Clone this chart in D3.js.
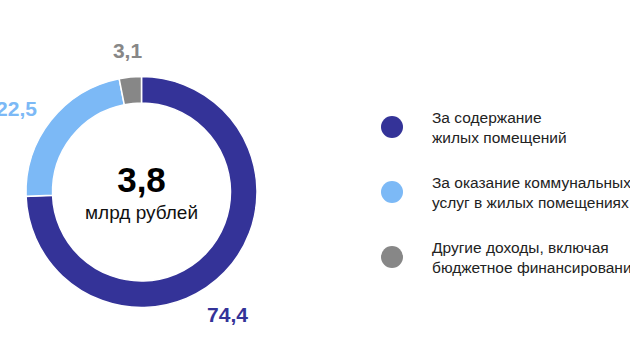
<!DOCTYPE html>
<html>
<head>
<meta charset="utf-8">
<script src="https://cdn.jsdelivr.net/npm/d3@7"></script>
<style>
  body { margin: 0; background: #fff; }
  svg text { font-family: "Liberation Sans", Arial, sans-serif; }
</style>
</head>
<body>
<svg id="donut" width="630" height="355"></svg>
<script>
// shares of income, %
var categories = ["За содержание жилых помещений", "За оказание коммунальных услуг в жилых помещениях", "Другие доходы, включая бюджетное финансирование"];
var values = [74.4, 22.5, 3.1];
var valueLabels = ["74,4", "22,5", "3,1"];
var legendLines = [
  ["За содержание", "жилых помещений"],
  ["За оказание коммунальных", "услуг в жилых помещениях"],
  ["Другие доходы, включая", "бюджетное финансирование"]
];
var colors = ["#343398", "#7cb9f6", "#878787"];
var totalLabel = "3,8";
var unitLabel = "млрд рублей";

function draw() {
  var svg = d3.select('#donut');

  var cx = 141.5, cy = 192;
  var r_out = 115.5, r_in = 89;

  var _data = values.map(function(v, i) {
    return { name: categories[i], value: v, label: valueLabels[i], color: colors[i] };
  });

  var pie = d3.pie().sort(null).value((d) => d.value);
  var arc = d3.arc().innerRadius(r_in).outerRadius(r_out);

  var canvas = svg.append("g").attr("transform", `translate(${cx}, ${cy})`);

  canvas.selectAll("path")
    .data(pie(_data))
    .enter().append("path")
      .attr("d", arc)
      .attr("fill", (d) => d.data.color)
      .attr("stroke", "#fff")
      .attr("stroke-width", 1.5);

  // value labels outside the ring
  var labelPos = [[86, 130], [-125, -76], [-14, -134]];
  canvas.selectAll("text.value")
    .data(pie(_data))
    .enter().append("text")
      .attr("class", "value")
      .attr("x", (d, i) => labelPos[i][0])
      .attr("y", (d, i) => labelPos[i][1])
      .attr("text-anchor", "middle")
      .attr("font-size", 21)
      .attr("font-weight", "bold")
      .attr("fill", (d) => d.data.color)
      .text((d) => d.data.label);

  canvas.append("text")
    .attr("text-anchor", "middle")
    .attr("y", 0)
    .attr("font-size", 35)
    .attr("font-weight", "bold")
    .attr("fill", "#000")
    .text(totalLabel);

  canvas.append("text")
    .attr("text-anchor", "middle")
    .attr("y", 27)
    .attr("font-size", 19)
    .attr("fill", "#111")
    .text(unitLabel);

  // legend
  var legend = svg.append("g").attr("transform", "translate(392, 127)");
  var items = legend.selectAll("g")
    .data(_data)
    .enter().append("g")
      .attr("transform", (d, i) => `translate(0, ${i * 65})`);

  items.append("circle")
    .attr("r", 11)
    .attr("fill", (d) => d.color);

  items.append("text")
    .attr("x", 40)
    .attr("y", -4)
    .attr("font-size", 15.5)
    .attr("fill", "#222")
    .selectAll("tspan")
    .data((d, i) => legendLines[i])
    .enter().append("tspan")
      .attr("x", 40)
      .attr("dy", (d, j) => j === 0 ? 0 : 20)
      .text((d) => d);
}

draw();
</script>
</body>
</html>
